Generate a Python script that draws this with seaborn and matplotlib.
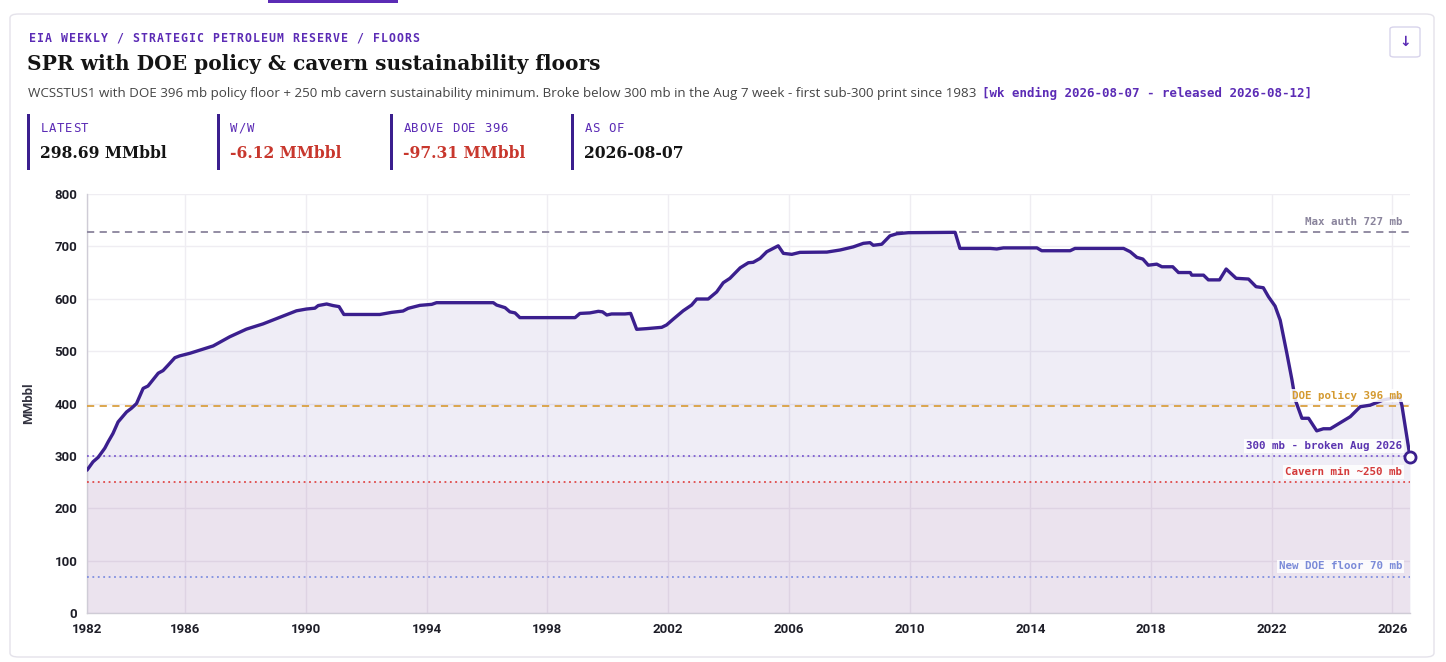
import matplotlib
matplotlib.use("Agg")
import matplotlib.pyplot as plt
import numpy as np
import pandas as pd
import seaborn as sns
from matplotlib.patches import FancyBboxPatch, Rectangle

W, H = 1446, 662

# SPR stocks (decimal year, MMbbl)
years = [1982.75, 1982.95, 1983.12, 1983.34, 1983.45, 1983.61, 1983.78, 1984.06, 1984.22, 1984.39,
         1984.61, 1984.77, 1985.11, 1985.27, 1985.44, 1985.66, 1985.82, 1986.16, 1986.60, 1986.93,
         1987.48, 1988.03, 1988.58, 1989.14, 1989.69, 1990.02, 1990.30, 1990.41, 1990.69, 1990.90,
         1991.10, 1991.26, 1992.45, 1992.84, 1993.22, 1993.39, 1993.78, 1994.17, 1994.33, 1996.21,
         1996.32, 1996.60, 1996.76, 1996.93, 1997.09, 1998.92, 1999.08, 1999.41, 1999.69, 1999.83,
         1999.97, 2000.13, 2000.57, 2000.76, 2000.96, 2001.29, 2001.79, 2001.95, 2002.17, 2002.50,
         2002.78, 2002.95, 2003.33, 2003.61, 2003.83, 2004.05, 2004.39, 2004.66, 2004.82, 2005.05,
         2005.27, 2005.65, 2005.82, 2006.10, 2006.37, 2007.26, 2007.70, 2008.14, 2008.47, 2008.69,
         2008.80, 2009.08, 2009.35, 2009.58, 2009.96, 2011.51, 2011.67, 2012.67, 2012.89, 2013.11,
         2014.22, 2014.38, 2015.32, 2015.48, 2017.09, 2017.31, 2017.53, 2017.73, 2017.91, 2018.19,
         2018.36, 2018.72, 2018.91, 2019.30, 2019.35, 2019.74, 2019.90, 2020.27, 2020.49, 2020.82,
         2021.23, 2021.48, 2021.72, 2021.89, 2022.11, 2022.28, 2022.50, 2022.67, 2022.78, 2023.00,
         2023.22, 2023.49, 2023.71, 2023.94, 2024.60, 2024.93, 2025.26, 2025.70, 2026.23, 2026.31,
         2026.58]
stocks = [273, 289, 297.5, 315, 327, 343, 365, 384, 391, 400,
          429, 433.5, 458, 463, 473.5, 487.5, 491, 496, 504, 510,
          527.5, 542, 552, 564.5, 577, 580.4, 582, 587, 590, 587,
          585, 570, 570, 574, 576.6, 581.7, 587.4, 589.3, 592.5, 592.5,
          588, 583, 575, 573, 564, 564, 572, 573, 576, 575,
          569, 571, 571, 572, 541.7, 543, 545.5, 550, 561, 577,
          588, 599.5, 599.5, 613, 630.6, 639, 659, 668.7, 669.5, 677,
          689.7, 701, 686.6, 684.7, 688.5, 689, 693, 699, 705.7, 707,
          702, 704, 720, 724, 726, 726.7, 696, 696, 695, 697,
          697, 691.6, 691.6, 696, 696, 689.7, 679, 675.7, 664, 666,
          661, 661, 650, 650, 645, 645, 636, 636, 656.7, 639,
          637.6, 623, 621, 604, 586, 559, 496, 445, 407, 372,
          372, 348, 352, 352, 375, 394, 397, 407, 413, 397,
          298.69]

floor_values = [727, 396, 300, 250, 70]
floor_labels = ["Max auth 727 mb", "DOE policy 396 mb", "300 mb - broken Aug 2026",
                "Cavern min ~250 mb", "New DOE floor 70 mb"]
floor_colors = ["#8a849c", "#d9a040", "#7c5cd0", "#e04848", "#7f8fe0"]
floor_text_colors = ["#8a849c", "#d49a30", "#5b35b0", "#d43a3a", "#7b8bd8"]
floor_styles = [(0, (4, 3)), (0, (4, 3)), (0, (1, 2)), (0, (1, 2)), (0, (1, 2))]

tick_years = [1986, 1990, 1994, 1998, 2002, 2006, 2010, 2014, 2018, 2022, 2026]

kpi_labels = ["LATEST", "W/W", "ABOVE DOE 396", "AS OF"]
kpi_values = ["298.69 MMbbl", "-6.12 MMbbl", "-97.31 MMbbl", "2026-08-07"]
kpi_colors = ["#141414", "#c8372d", "#c8372d", "#141414"]
kpi_x = [28, 218, 391, 572]

LINE = "#3b1f8e"
PURPLE = "#5b2bb5"

df = pd.DataFrame({"year": years, "stock": stocks})

sns.set_theme(style="whitegrid")
plt.rcParams["font.family"] = ["DejaVu Sans"]

fig = plt.figure(figsize=(W / 100, H / 100), dpi=100)
fig.patch.set_facecolor("white")


def fx(x):
    return x / W


def fy(y):
    return 1 - y / H


def spaced(x, y, s, pitch, **kw):
    for i, ch in enumerate(s):
        fig.text(fx(x + i * pitch + pitch / 2), fy(y), ch, ha="center", va="center", **kw)


# card + decorations
card = FancyBboxPatch((fx(10), fy(657)), fx(1424), 643 / H,
                      boxstyle="round,pad=0,rounding_size=0.006",
                      transform=fig.transFigure, fc="white", ec="#e4e2ea", lw=1, zorder=-5)
fig.patches.append(card)
fig.patches.append(Rectangle((fx(268), fy(3)), fx(130), 3 / H, transform=fig.transFigure,
                             fc=PURPLE, ec="none"))
fig.patches.append(FancyBboxPatch((fx(1390), fy(57)), fx(30), 30 / H,
                                  boxstyle="round,pad=0,rounding_size=0.003",
                                  transform=fig.transFigure, fc="white", ec="#d8d4ec", lw=1))
fig.text(fx(1405), fy(42), "↓", ha="center", va="center", fontsize=10,
         fontweight="bold", color=PURPLE)

# header texts
spaced(28, 38, "EIA WEEKLY / STRATEGIC PETROLEUM RESERVE / FLOORS", 8.0,
       family="DejaVu Sans Mono", fontsize=8.3, fontweight="bold", color=PURPLE)
fig.text(fx(27), fy(64), "SPR with DOE policy & cavern sustainability floors",
         ha="left", va="center", family="DejaVu Serif", fontsize=14.5, fontweight="bold",
         color="#141414")
fig.text(fx(28), fy(93), "WCSSTUS1 with DOE 396 mb policy floor + 250 mb cavern "
         "sustainability minimum. Broke below 300 mb in the Aug 7 week - first sub-300 "
         "print since 1983", ha="left", va="center", family="Open Sans", fontsize=9.6,
         color="#444444")
fig.text(fx(982), fy(93), "[wk ending 2026-08-07 - released 2026-08-12]", ha="left",
         va="center", family="DejaVu Sans Mono", fontsize=9, fontweight="bold", color=PURPLE)

for x, lab, val, col in zip(kpi_x, kpi_labels, kpi_values, kpi_colors):
    fig.patches.append(Rectangle((fx(x - 1), fy(170)), fx(3), 56 / H,
                                 transform=fig.transFigure, fc=LINE, ec="none"))
    spaced(x + 12, 128, lab, 8.1, family="DejaVu Sans Mono", fontsize=8.8, color=PURPLE)
    fig.text(fx(x + 12), fy(153), val, ha="left", va="center", family="DejaVu Serif",
             fontsize=11.2, fontweight="bold", color=col)

# chart
ax = fig.add_axes([fx(87), fy(613.3), fx(1410 - 87), (613.3 - 193.9) / H])
ax.set_zorder(2)
ax.set_facecolor("white")
ax.axhspan(0, 250, color="#c0306a", alpha=0.05, lw=0, zorder=1)
ax.fill_between(df["year"], 0, df["stock"], color=LINE, alpha=0.08, lw=0, zorder=1)
sns.lineplot(data=df, x="year", y="stock", ax=ax, color=LINE, lw=2.4, zorder=4)
ax.plot(years[-1], stocks[-1], "o", ms=8, mfc="white", mec=LINE, mew=2,
        clip_on=False, zorder=6)

for v, lab, c, tc, ls in zip(floor_values, floor_labels, floor_colors, floor_text_colors,
                             floor_styles):
    ax.axhline(v, color=c, lw=1.3, ls=ls, zorder=3)
    ax.annotate(lab, xy=(0.994, v), xycoords=("axes fraction", "data"),
                xytext=(0, 7.3), textcoords="offset points", ha="right", va="center",
                family="DejaVu Sans Mono", fontsize=7.8, fontweight="bold", color=tc,
                zorder=5,
                bbox=dict(boxstyle="square,pad=0.15", fc="white", ec="none", alpha=0.85))

ax.set_xlim(years[0], years[-1])
ax.set_ylim(0, 800)
ax.set_xticks([years[0]] + tick_years)
ax.set_xticklabels(["1982"] + [str(t) for t in tick_years])
ax.set_yticks(np.arange(0, 801, 100))
ax.grid(True, color="#efedf2", lw=1)
ax.set_axisbelow(True)
for s in ["top", "right"]:
    ax.spines[s].set_visible(False)
for s in ["left", "bottom"]:
    ax.spines[s].set_color("#cfccd6")
    ax.spines[s].set_linewidth(1)
ax.tick_params(axis="both", length=0, pad=7, colors="#1e1e28")
for t in ax.get_xticklabels() + ax.get_yticklabels():
    t.set_family("Roboto")
    t.set_fontweight("bold")
    t.set_fontsize(9.5)
ax.set_xlabel("")
ax.set_ylabel("MMbbl", family="Roboto", fontsize=9.5, fontweight="bold", color="#333340",
              labelpad=14)

fig.savefig("out.png", dpi=100, facecolor="white")
